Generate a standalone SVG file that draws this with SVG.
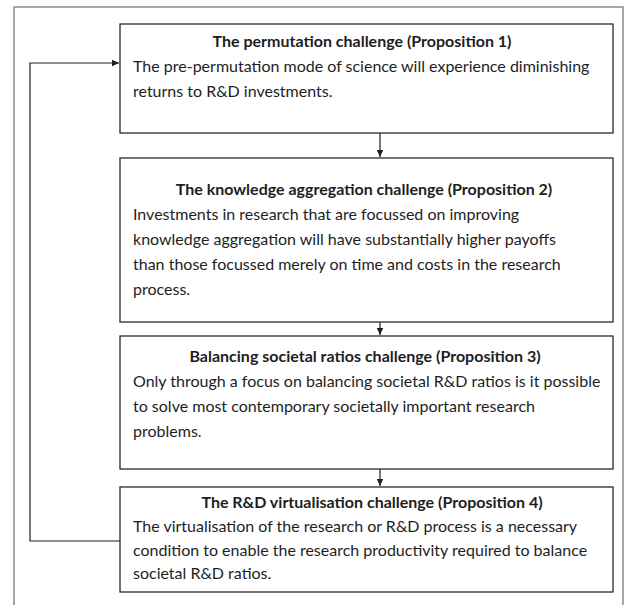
<svg xmlns="http://www.w3.org/2000/svg" width="628" height="605" viewBox="0 0 628 605">
<style>
.box{fill:#fff;stroke:#2a2a2a;stroke-width:1.3}
.frame{fill:none;stroke:#8a8a8a;stroke-width:1.5}
.t{font-family:Lato,"Liberation Sans",sans-serif;font-size:16px;fill:#1e1e1e}
.h{font-weight:bold;text-anchor:middle}
.con{fill:none;stroke:#1e1e1e;stroke-width:1.2}
</style>
<defs>
<marker id="ah" markerWidth="8" markerHeight="8" refX="7" refY="4" orient="auto" markerUnits="userSpaceOnUse">
<path d="M0,0.8 L7,4 L0,7.2 Z" fill="#1e1e1e"/>
</marker>
</defs>
<rect width="628" height="605" fill="#fff"/>
<path class="frame" d="M14,605 V7 H623 V605"/>
<g id="connectors">
<path class="con" d="M380,133 V157" marker-end="url(#ah)"/>
<path class="con" d="M380,322 V335" marker-end="url(#ah)"/>
<path class="con" d="M380,469 V486" marker-end="url(#ah)"/>
<path class="con" d="M120,541 H30 V63 H119" marker-end="url(#ah)"/>
</g>
<g id="node1">
<rect class="box" x="120" y="24" width="493" height="109"/>
<text class="t h" x="362" y="47">The permutation challenge (Proposition 1)</text>
<text class="t" x="133" y="72">The pre-permutation mode of science will experience diminishing</text>
<text class="t" x="133" y="97">returns to R&amp;D investments.</text>
</g>
<g id="node2">
<rect class="box" x="120" y="158" width="493" height="164"/>
<text class="t h" x="364" y="195">The knowledge aggregation challenge (Proposition 2)</text>
<text class="t" x="133" y="220">Investments in research that are focussed on improving</text>
<text class="t" x="133" y="245">knowledge aggregation will have substantially higher payoffs</text>
<text class="t" x="133" y="270">than those focussed merely on time and costs in the research</text>
<text class="t" x="133" y="295">process.</text>
</g>
<g id="node3">
<rect class="box" x="120" y="336" width="493" height="133"/>
<text class="t h" x="365" y="362">Balancing societal ratios challenge (Proposition 3)</text>
<text class="t" x="133" y="387">Only through a focus on balancing societal R&amp;D ratios is it possible</text>
<text class="t" x="133" y="412">to solve most contemporary societally important research</text>
<text class="t" x="133" y="437">problems.</text>
</g>
<g id="node4">
<rect class="box" x="120" y="487" width="493" height="105"/>
<text class="t h" x="372" y="508">The R&amp;D virtualisation challenge (Proposition 4)</text>
<text class="t" x="133" y="532">The virtualisation of the research or R&amp;D process is a necessary</text>
<text class="t" x="133" y="556">condition to enable the research productivity required to balance</text>
<text class="t" x="133" y="579">societal R&amp;D ratios.</text>
</g>
</svg>
